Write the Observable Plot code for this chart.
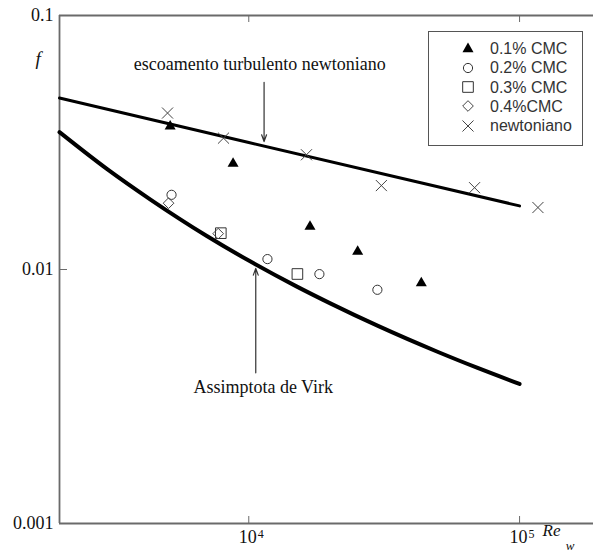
<!DOCTYPE html>
<html>
<head>
<meta charset="utf-8">
<script src="https://cdn.jsdelivr.net/npm/d3@7"></script>
<script src="https://cdn.jsdelivr.net/npm/@observablehq/plot@0.6"></script>
<style>
  body { margin: 0; background: #fff; }
  #wrap { position: relative; width: 593px; height: 556px; overflow: hidden; }
  #legend { position: absolute; left: 428px; top: 31px; width: 153px; height: 106px;
    border: 1px solid #555; background: #fff; box-sizing: content-box;
    font-family: "Liberation Sans", Arial, sans-serif; font-size: 16px; color: #333; padding-top: 7px; }
  .row { height: 19.3px; line-height: 19.3px; position: relative; }
  .row svg { position: absolute; left: 31px; top: 2.6px; }
  .row span { position: absolute; left: 61px; top: 0; }
</style>
</head>
<body>
<div id="wrap">
  <div id="chart"></div>
  <div id="legend"></div>
</div>
<script>
// ---- data ----
const reCMC1 = [5124, 8750, 16830, 25240, 43360];
const fCMC1  = [0.0366, 0.0261, 0.01476, 0.01177, 0.00884];
const reCMC2 = [5185, 11720, 18230, 29850];
const fCMC2  = [0.01968, 0.01099, 0.00959, 0.00832];
const reCMC3 = [7883, 15120];
const fCMC3  = [0.0139, 0.0096];
const reCMC4 = [5055, 7710];
const fCMC4  = [0.01824, 0.01384];
const reNewt = [5012, 8066, 16330, 30880, 68200, 116900];
const fNewt  = [0.0413, 0.0329, 0.0283, 0.0214, 0.0210, 0.01754];

// turbulent Newtonian line
const reTurb = [2000, 10000, 100000];
const fTurb  = [0.0473, 0.0316, 0.0178];
// Virk asymptote
const reVirk = [2000, 3000, 4349, 7000, 10000, 15000, 20000, 30000, 50000, 70000, 100000];
const fVirk  = [0.03474, 0.02484, 0.01881, 0.01355, 0.01084, 0.008582, 0.007356, 0.005995, 0.004733, 0.004096, 0.003543];

const seriesNames = ["0.1% CMC", "0.2% CMC", "0.3% CMC", "0.4%CMC", "newtoniano"];
const xTicks = [1e4, 1e5];
const xTickBase = ["10", "10"];
const xTickExp = ["4", "5"];
const yTicks = [0.001, 0.01, 0.1];
const yTickLabels = ["0.001", "0.01", "0.1"];

const annText = ["escoamento turbulento newtoniano", "Assimptota de Virk"];
const annRe = [10980, 11310];
const annF = [0.0611, 0.00327];
const arrowRe = [11390, 10612];
const arrowFrom = [0.0546, 0.00392];
const arrowTo = [0.0319, 0.0101];

// ---- build tables ----
const toRows = (xs, ys) => xs.map((x, i) => ({x, y: ys[i]}));
const styles = [
  {symbol: "triangle", r: 4.1, fill: "#000", stroke: "none"},
  {symbol: "circle", r: 4.6, fill: "none", stroke: "#333"},
  {symbol: "square", r: 6.0, fill: "none", stroke: "#333"},
  {symbol: "diamond2", r: 4.8, fill: "none", stroke: "#444"},
  {symbol: "times", r: 5.1, fill: "none", stroke: "#444"}
];
const series = [toRows(reCMC1, fCMC1), toRows(reCMC2, fCMC2), toRows(reCMC3, fCMC3), toRows(reCMC4, fCMC4), toRows(reNewt, fNewt)];
const ann = annText.map((t, i) => ({t, x: annRe[i], y: annF[i]}));
const arrows = arrowRe.map((x, i) => ({x, y1: arrowFrom[i], y2: arrowTo[i]}));
const xTickRows = xTicks.map((x, i) => ({x, base: xTickBase[i], exp: xTickExp[i]}));

const W = 593, H = 556, mL = 59, mR = 0, mT = 15, mB = 33;
const innerW = W - mL - mR, innerH = H - mT - mB;
const serif = "'Liberation Serif', 'Times New Roman', serif";

const chart = Plot.plot({
  width: W, height: H,
  marginLeft: mL, marginRight: mR, marginTop: mT, marginBottom: mB,
  style: {fontFamily: serif, fontSize: "18px", color: "#111", background: "#fff"},
  x: {type: "log", domain: [2000, 187500], axis: null},
  y: {type: "log", domain: [0.001, 0.1], axis: null},
  marks: [
    // frame lines
    Plot.ruleX([2000], {stroke: "#6a6a6a", strokeWidth: 1.8}),
    Plot.ruleY([0.001], {stroke: "#6a6a6a", strokeWidth: 1.8}),
    Plot.ruleY([0.1], {stroke: "#6a6a6a", strokeWidth: 1.8}),
    // inward ticks
    Plot.tickX(xTicks, {x: d => d, insetTop: innerH - 7, stroke: "#6a6a6a", strokeWidth: 1}),
    Plot.tickX(xTicks, {x: d => d, insetBottom: innerH - 7, stroke: "#6a6a6a", strokeWidth: 1}),
    Plot.tickY([0.01], {y: d => d, insetRight: innerW - 8, stroke: "#6a6a6a", strokeWidth: 1}),
    // axis labels
    Plot.text(xTickRows, {x: "x", text: "base", frameAnchor: "bottom", dy: 19, dx: -1, fontSize: 18}),
    Plot.text(xTickRows, {x: "x", text: "exp", frameAnchor: "bottom", dy: 14, dx: 12, fontSize: 12}),
    Plot.axisY({ticks: yTicks, tickFormat: d => yTickLabels[yTicks.indexOf(d)], tickSize: 0, tickPadding: 6, fontSize: 18, label: null}),
    Plot.text(["f"], {frameAnchor: "top-left", dx: -24, dy: 36, fontStyle: "italic", fontSize: 19}),
    Plot.text(["Re"], {frameAnchor: "bottom-right", dx: -33, dy: 12, fontStyle: "italic", fontSize: 17}),
    Plot.text(["w"], {frameAnchor: "bottom-right", dx: -19, dy: 26, fontStyle: "italic", fontSize: 13}),
    // curves
    Plot.line(toRows(reTurb, fTurb), {x: "x", y: "y", stroke: "#000", strokeWidth: 3}),
    Plot.line(toRows(reVirk, fVirk), {x: "x", y: "y", stroke: "#000", strokeWidth: 4, curve: "monotone-x"}),
    // annotations
    Plot.arrow(arrows, {x1: "x", x2: "x", y1: "y1", y2: "y2", stroke: "#333", strokeWidth: 1.2, headLength: 9, headAngle: 40}),
    Plot.text(ann, {x: "x", y: "y", text: "t", fontSize: 18, lineAnchor: "bottom", fill: "#111"}),
    // data points
    ...series.map((rows, i) => Plot.dot(rows, {x: "x", y: "y", symbol: styles[i].symbol, r: styles[i].r,
      fill: styles[i].fill, stroke: styles[i].stroke, strokeWidth: 1}))
  ]
});
document.getElementById("chart").appendChild(chart);

// legend
const legend = d3.select("#legend");
const symMap = {triangle: d3.symbolTriangle, circle: d3.symbolCircle, square: d3.symbolSquare, diamond2: d3.symbolDiamond2, times: d3.symbolTimes};
seriesNames.forEach((name, i) => {
  const s = styles[i];
  const row = legend.append("div").attr("class", "row");
  const svg = row.append("svg").attr("width", 16).attr("height", 14);
  svg.append("path")
    .attr("transform", "translate(8,7)")
    .attr("d", d3.symbol(symMap[s.symbol], Math.PI * s.r * s.r)())
    .attr("fill", s.fill).attr("stroke", s.stroke).attr("stroke-width", 1);
  row.append("span").text(name);
});
</script>
</body>
</html>
